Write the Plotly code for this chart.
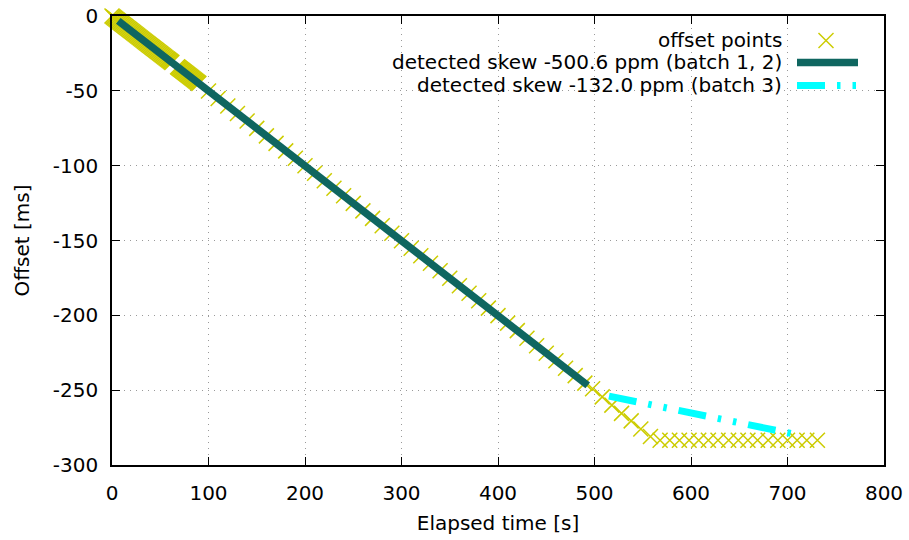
import plotly.graph_objects as go

# ---- measured clock offsets -------------------------------------------------
# batch 1: dense sampling at start-up (1 s spacing), with a short gap
batch1_t = [0, 1, 2, 3, 4, 5, 6, 7, 8, 9, 10, 11, 12, 13, 14, 15, 16, 17, 18, 19,
            20, 21, 22, 23, 24, 25, 26, 27, 28, 29, 30, 31, 32, 33, 34, 35, 36, 37,
            38, 39, 40, 41, 42, 43, 44, 45, 46, 47, 48, 49, 50, 51, 52, 53, 54, 55,
            56, 57, 58, 59, 60, 61, 62,
            68, 69, 70, 71, 72, 73, 74, 75, 76, 77, 78, 79, 80, 81, 82, 83, 84, 85,
            86, 87, 88, 89, 90]
batch1_ms = [0.0, -0.5, -1.0, -1.5, -2.0, -2.5, -3.0, -3.5, -4.0, -4.5, -5.0, -5.5,
             -6.0, -6.5, -7.0, -7.5, -8.0, -8.5, -9.0, -9.5, -10.0, -10.5, -11.0,
             -11.5, -12.0, -12.5, -13.0, -13.5, -14.0, -14.5, -15.0, -15.5, -16.0,
             -16.5, -17.0, -17.5, -18.0, -18.5, -19.0, -19.5, -20.0, -20.5, -21.0,
             -21.5, -22.0, -22.5, -23.0, -23.5, -24.0, -24.5, -25.0, -25.5, -26.0,
             -26.5, -27.0, -27.5, -28.0, -28.5, -29.0, -29.5, -30.0, -30.5, -31.0,
             -34.0, -34.5, -35.0, -35.5, -36.0, -36.5, -37.0, -37.5, -38.0, -38.5,
             -39.0, -39.5, -40.0, -40.5, -41.0, -41.5, -42.0, -42.5, -43.0, -43.5,
             -44.0, -44.5, -45.0]

# batch 2: regular sampling every ~10 s
batch2_t = [100, 110, 120, 130, 140, 150, 160, 170, 180, 190, 200, 210, 220, 230,
            240, 250, 260, 270, 280, 290, 300, 310, 320, 330, 340, 350, 360, 370,
            380, 390, 400, 410, 420, 430, 440, 450, 460, 470, 480, 490]
batch2_ms = [-50.1, -55.1, -60.1, -65.1, -70.1, -75.1, -80.1, -85.1, -90.1, -95.1,
             -100.1, -105.1, -110.1, -115.1, -120.1, -125.2, -130.2, -135.2,
             -140.2, -145.2, -150.2, -155.2, -160.2, -165.2, -170.2, -175.2,
             -180.2, -185.2, -190.2, -195.2, -200.2, -205.2, -210.2, -215.3,
             -220.3, -225.3, -230.3, -235.3, -240.3, -245.3]

# batch 3: drift change, then the offset settles
batch3_t = [498, 508, 518, 528, 538, 548, 558,
            568, 578, 588, 598, 608, 618, 628, 639, 649, 659, 669, 680, 690, 700,
            710, 720, 731]
batch3_ms = [-249.0, -254.5, -260.0, -265.5, -270.5, -276.0, -281.0,
             -283.4, -283.4, -283.4, -283.4, -283.4, -283.4, -283.4, -283.4,
             -283.4, -283.4, -283.4, -283.4, -283.4, -283.4, -283.4, -283.4,
             -283.4]

# ---- detected skews (ppm) and fit ranges -----------------------------------
skew_labels = ["detected skew -500.6 ppm (batch 1, 2)",
               "detected skew -132.0 ppm (batch 3)"]
skew_ppm = [-500.6, -132.0]
fit_intercept_ms = [0.0, -186.0]
fit_start_s = [6.5, 515.0]
fit_end_s = [493.0, 709.0]

x_ticks = [0, 100, 200, 300, 400, 500, 600, 700, 800]
y_ticks = [0, -50, -100, -150, -200, -250, -300]
y_tick_text = ["0", "-50", "-100", "-150", "-200", "-250", "-300"]

YELLOW = "#cccc00"
TEAL = "#0f6660"
CYAN = "#00ffff"
FONT = "DejaVu Sans"
FS = 20

fig = go.Figure()

pts_t = batch1_t + batch2_t + batch3_t
pts_ms = batch1_ms + batch2_ms + batch3_ms
fig.add_trace(go.Scatter(
    x=pts_t, y=pts_ms, mode="markers", cliponaxis=False, showlegend=False,
    marker=dict(symbol="x-thin", size=15, color=YELLOW,
                line=dict(width=1.5, color=YELLOW)),
))


def fit_line(i):
    slope = skew_ppm[i] * 1e-3  # ppm -> ms per s
    xs = [fit_start_s[i], fit_end_s[i]]
    ys = [fit_intercept_ms[i] + slope * x for x in xs]
    return xs, ys


xs, ys = fit_line(0)
fig.add_trace(go.Scatter(x=xs, y=ys, mode="lines", showlegend=False,
                         line=dict(color=TEAL, width=7.5)))
xs, ys = fit_line(1)
dash_pattern = "28px,12px,3.5px,12px,3.5px,12px"
fig.add_trace(go.Scatter(x=xs, y=ys, mode="lines", showlegend=False,
                         line=dict(color=CYAN, width=7, dash=dash_pattern)))

# ---- key in the upper right corner (text left of the sample) ---------------
L, T, PW, PH = 112, 15.5, 772, 449.5


def px(x):
    return (x - L) / PW


def py(y):
    return (T + PH - y) / PH


key_rows = ["offset points"] + skew_labels
key_y = [40, 62, 85]
for txt, yy in zip(key_rows, key_y):
    fig.add_annotation(xref="paper", yref="paper", x=px(784), y=py(yy),
                       text=txt, showarrow=False, xanchor="right",
                       yanchor="middle", font=dict(family=FONT, size=FS,
                                                   color="black"))

shapes = []
cx, cy, h = 826, 40, 7.5
for a, b in [((cx - h, cy - h), (cx + h, cy + h)),
             ((cx - h, cy + h), (cx + h, cy - h))]:
    shapes.append(dict(type="line", xref="paper", yref="paper",
                       x0=px(a[0]), y0=py(a[1]), x1=px(b[0]), y1=py(b[1]),
                       line=dict(color=YELLOW, width=1.5)))
shapes.append(dict(type="line", xref="paper", yref="paper",
                   x0=px(797), y0=py(62), x1=px(858), y1=py(62),
                   line=dict(color=TEAL, width=7.5)))
shapes.append(dict(type="line", xref="paper", yref="paper",
                   x0=px(797), y0=py(85), x1=px(858), y1=py(85),
                   line=dict(color=CYAN, width=7, dash=dash_pattern)))

axis_common = dict(
    showline=True, linecolor="black", linewidth=1.5, mirror="allticks",
    ticks="inside", ticklen=8, tickwidth=1.2, tickcolor="black",
    showgrid=True, gridcolor="#9a9a9a", gridwidth=1, griddash="1px,5px",
    zeroline=False, automargin=False,
    tickfont=dict(family=FONT, size=FS, color="black"),
)

fig.update_layout(
    width=909, height=540,
    margin=dict(l=112, r=25, t=15.5, b=75),
    paper_bgcolor="white", plot_bgcolor="white",
    shapes=shapes,
    xaxis=dict(range=[0, 800], tickvals=x_ticks, ticklabelstandoff=9,
               title=dict(text="Elapsed time [s]", standoff=12,
                          font=dict(family=FONT, size=FS, color="black")),
               **axis_common),
    yaxis=dict(range=[-300, 0], tickvals=y_ticks, ticktext=y_tick_text,
               ticklabelstandoff=8,
               title=dict(text="Offset [ms]", standoff=18,
                          font=dict(family=FONT, size=FS, color="black")),
               **axis_common),
)

fig.write_html("out.html")
